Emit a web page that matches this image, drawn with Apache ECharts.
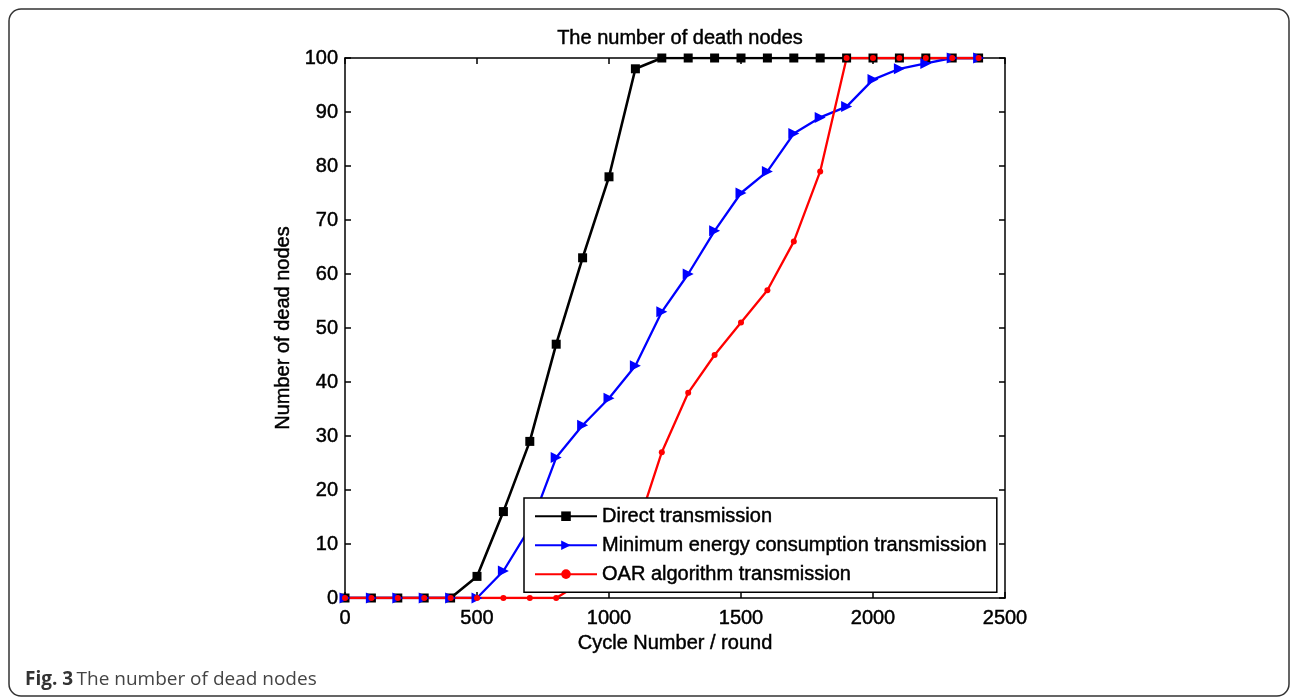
<!DOCTYPE html>
<html>
<head>
<meta charset="utf-8">
<script src="https://cdn.jsdelivr.net/npm/echarts@6/dist/echarts.min.js"></script>
<style>
html,body{margin:0;padding:0;background:#fff;}
#chart{width:1296px;height:699px;}
</style>
</head>
<body>
<div id="chart"></div>
<script>
var rounds = [0,100,200,300,400,500,600,700,800,900,1000,1100,1200,1300,1400,1500,1600,1700,1800,1900,2000,2100,2200,2300,2400];
var directTransmission = [0,0,0,0,0,4,16,29,47,63,78,98,100,100,100,100,100,100,100,100,100,100,100,100,100];
var minEnergyTransmission = [0,0,0,0,0,0,5,13,26,32,37,43,53,60,68,75,79,86,89,91,96,98,99,100,100];
var oarTransmission = [0,0,0,0,0,0,0,0,0,3,7,12,27,38,45,51,57,66,79,100,100,100,100,100,100];
var seriesNames = ['Direct transmission','Minimum energy consumption transmission','OAR algorithm transmission'];
var titleText = 'The number of death nodes';
var xName = 'Cycle Number / round';
var yName = 'Number of dead nodes';

function pairs(ys){ return rounds.map(function(x,i){ return [x, ys[i]]; }); }

var font = 'Liberation Sans, Arial, sans-serif';
var fs = 20;
function txt(extra){
  var o = {fontFamily:font, fontSize:fs, color:'#000', textBorderColor:'#000', textBorderWidth:0.45};
  for (var k in extra) o[k] = extra[k];
  return o;
}
var chart = echarts.init(document.getElementById('chart'), null, {renderer:'canvas'});
var axisLineStyle = {color:'#000', width:1.5};
chart.setOption({
  animation:false,
  backgroundColor:'#fff',
  title:{text:titleText, left:675, top:23, textAlign:'center',
    textStyle:txt({fontWeight:'normal'})},
  grid:{left:345, right:291, top:58, bottom:101, containLabel:false},
  legend:{
    orient:'vertical', left:524, top:498,
    data:seriesNames,
    backgroundColor:'#fff', borderColor:'#000', borderWidth:1.5,
    padding:[8,10,8,10], itemGap:8.5, itemWidth:62, itemHeight:12,
    textStyle:txt({}),
    borderRadius:0
  },
  xAxis:[{
    type:'value', min:0, max:2500, interval:500, position:'bottom',
    name:xName, nameLocation:'middle', nameGap:35,
    nameTextStyle:txt({}),
    axisLine:{show:true, onZero:false, lineStyle:axisLineStyle},
    axisTick:{show:true, inside:true, length:6, lineStyle:axisLineStyle},
    axisLabel:txt({margin:10, formatter:function(v){ return String(v); }}),
    splitLine:{show:false}
  },{
    type:'value', min:0, max:2500, interval:500, position:'top',
    axisLine:{show:true, onZero:false, lineStyle:axisLineStyle},
    axisTick:{show:true, inside:true, length:6, lineStyle:axisLineStyle},
    axisLabel:{show:false}, splitLine:{show:false}
  }],
  yAxis:[{
    type:'value', min:0, max:100, interval:10, position:'left',
    name:yName, nameLocation:'middle', nameGap:52,
    nameTextStyle:txt({}),
    axisLine:{show:true, onZero:false, lineStyle:axisLineStyle},
    axisTick:{show:true, inside:true, length:6, lineStyle:axisLineStyle},
    axisLabel:txt({margin:7}),
    splitLine:{show:false}
  },{
    type:'value', min:0, max:100, interval:10, position:'right',
    axisLine:{show:true, onZero:false, lineStyle:axisLineStyle},
    axisTick:{show:true, inside:true, length:6, lineStyle:axisLineStyle},
    axisLabel:{show:false}, splitLine:{show:false}
  }],
  series:[{
    name:seriesNames[0], type:'line', data:pairs(directTransmission),
    symbol:'rect', symbolSize:9, color:'#000',
    lineStyle:{color:'#000', width:2.6}, itemStyle:{color:'#000'}
  },{
    name:seriesNames[1], type:'line', data:pairs(minEnergyTransmission),
    symbol:'triangle', symbolRotate:-90, symbolSize:11, color:'#0000ff',
    lineStyle:{color:'#0000ff', width:2.3}, itemStyle:{color:'#0000ff'}
  },{
    name:seriesNames[2], type:'line', data:pairs(oarTransmission),
    symbol:'circle', symbolSize:6, color:'#ff0000',
    lineStyle:{color:'#ff0000', width:2.3}, itemStyle:{color:'#ff0000'}
  }],
  graphic:[{
    type:'rect', shape:{x:9, y:9, width:1280, height:687, r:12},
    style:{fill:'none', stroke:'#333', lineWidth:1.5}, silent:true, z:-1
  },{
    type:'text', left:25, top:670,
    style:{
      text:'{b|Fig. 3} {n|The number of dead nodes}',
      rich:{
        b:{fontFamily:'Open Sans, sans-serif', fontWeight:'bold', fontSize:19, fill:'#333'},
        n:{fontFamily:'Open Sans, sans-serif', fontSize:19, fill:'#444'}
      }
    }
  }]
});
</script>
</body>
</html>
